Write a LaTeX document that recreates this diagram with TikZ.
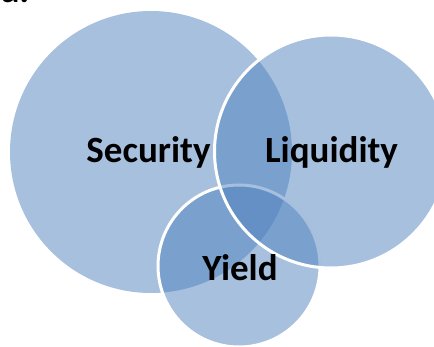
\documentclass[tikz,border=0pt]{standalone}
\usepackage{fontspec}
\setmainfont{Carlito}
\usepackage{tikz}

\definecolor{VennBlue}{HTML}{4F81BD}

\begin{document}
\begin{tikzpicture}[x=1pt,y=-1pt,
  venn/.style={circle, inner sep=0pt, fill=VennBlue, fill opacity=0.5},
  rim/.style={draw=white, draw opacity=1, line width=3pt},
  lbl/.style={anchor=base, inner sep=0pt, font=\fontsize{37}{40}\selectfont\bfseries}]

\useasboundingbox (0,0) rectangle (434,347);
\clip (0,0) rectangle (434,347);

\node[venn, minimum size=282pt]       (Sec) at (151,152)   {};
\node[venn, rim, minimum size=162pt]  (Yld) at (239,266)   {};
\node[venn, rim, minimum size=233pt]  (Liq) at (331,151.5) {};

\node[lbl] (SecText) at (148.5,163) {Security};
\node[lbl] (LiqText) at (331.5,163) {Liquidity};
\node[lbl] (YldText) at (240,281)   {Yield};
\node[lbl, anchor=base west] (Tag) at (1,2.5) {a.};

\end{tikzpicture}
\end{document}
